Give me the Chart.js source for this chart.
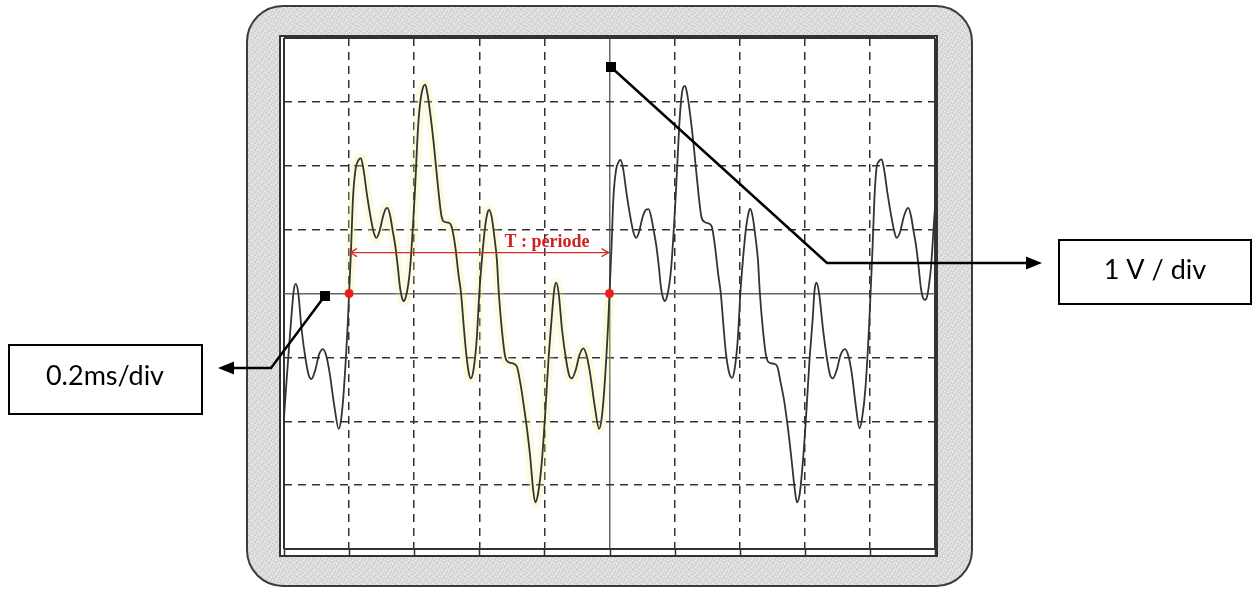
<!DOCTYPE html>
<html>
<head>
<meta charset="utf-8">
<script src="https://cdn.jsdelivr.net/npm/chart.js@4.4.1/dist/chart.umd.min.js"></script>
<style>
html,body{margin:0;padding:0;background:#fff;overflow:hidden}
canvas{display:block}
</style>
</head>
<body>
<canvas id="scope" width="1253" height="589"></canvas>
<script>
// ---- data (time in divisions, voltage in divisions) ----
const timeDiv = [
  0.00,0.03,0.06,0.11,0.15,0.18,0.22,0.27,0.34,0.38,0.42,0.48,0.54,0.60,0.65,0.70,0.78,0.84,0.88,0.92,0.98,
  1.00,1.03,1.06,1.10,1.14,1.18,1.22,1.27,1.33,1.38,1.42,1.46,1.52,1.56,1.59,1.63,1.67,1.71,1.75,1.78,1.81,1.84,1.87,1.91,1.94,1.98,
  2.01,2.06,2.10,2.14,2.17,2.20,2.24,2.30,2.35,2.42,2.47,2.52,2.57,2.63,2.68,2.72,2.76,2.80,2.84,2.87,2.91,2.96,
  3.00,3.04,3.09,3.13,3.15,3.19,3.23,3.27,3.30,3.35,3.40,3.46,3.53,3.58,3.63,3.67,3.73,3.78,3.83,3.86,3.90,3.96,
  4.01,4.06,4.11,4.15,4.18,4.22,4.27,4.34,4.38,4.42,4.48,4.54,4.60,4.65,4.70,4.78,4.84,4.88,4.92,4.98,
  5.00,5.03,5.06,5.10,5.14,5.17,5.21,5.26,5.32,5.37,5.41,5.45,5.51,5.56,5.60,5.64,5.68,5.72,5.76,5.79,5.82,5.85,5.88,5.92,5.95,5.99,
  6.02,6.07,6.10,6.13,6.16,6.19,6.23,6.29,6.34,6.41,6.46,6.51,6.57,6.62,6.67,6.71,6.75,6.79,6.84,6.88,6.92,6.97,
  7.01,7.05,7.10,7.14,7.16,7.20,7.24,7.28,7.31,7.36,7.41,7.47,7.53,7.58,7.63,7.68,7.74,7.79,7.85,7.88,7.92,7.97,
  8.02,8.07,8.12,8.15,8.18,8.22,8.28,8.35,8.39,8.43,8.49,8.55,8.62,8.67,8.72,8.79,8.84,8.88,8.93,8.99,
  9.01,9.04,9.07,9.10,9.14,9.18,9.22,9.27,9.33,9.38,9.41,9.46,9.52,9.56,9.59,9.63,9.67,9.71,9.75,9.78,9.81,9.85,9.88,9.91,9.94,9.98,10.00
];
const voltDiv = [
  -1.95,-1.50,-1.08,-0.41,0.05,0.15,0.00,-0.56,-1.08,-1.28,-1.34,-1.20,-0.95,-0.87,-0.98,-1.24,-1.81,-2.12,-1.95,-1.50,-0.46,
  0.00,0.70,1.50,1.95,2.08,2.12,1.95,1.58,1.20,0.95,0.87,0.95,1.20,1.32,1.34,1.22,0.98,0.74,0.40,0.11,-0.06,-0.12,-0.06,0.15,0.43,1.05,
  1.58,2.61,3.05,3.24,3.27,3.15,2.87,2.35,1.83,1.21,1.12,1.11,1.06,0.74,0.30,0.00,-0.50,-0.95,-1.25,-1.33,-1.20,-0.72,
  0.00,0.53,1.05,1.28,1.31,1.20,0.90,0.53,0.00,-0.60,-1.00,-1.08,-1.10,-1.15,-1.40,-1.66,-2.10,-2.54,-3.10,-3.27,-3.15,-2.64,
  -1.92,-1.08,-0.41,0.05,0.17,0.00,-0.56,-1.08,-1.28,-1.33,-1.20,-0.96,-0.86,-0.98,-1.24,-1.81,-2.12,-1.95,-1.50,-0.46,
  0.00,0.70,1.50,1.93,2.06,2.09,1.95,1.58,1.20,0.95,0.87,0.95,1.20,1.31,1.32,1.20,0.98,0.74,0.40,0.10,-0.06,-0.12,-0.06,0.15,0.43,1.05,
  1.58,2.60,3.02,3.22,3.25,3.14,2.87,2.35,1.83,1.21,1.12,1.10,1.05,0.74,0.30,0.00,-0.50,-0.95,-1.25,-1.32,-1.20,-0.72,
  0.00,0.53,1.05,1.28,1.33,1.20,0.90,0.53,0.00,-0.60,-1.00,-1.09,-1.10,-1.15,-1.40,-1.66,-2.10,-2.54,-3.10,-3.27,-3.15,-2.64,
  -1.92,-1.08,-0.41,0.05,0.17,0.00,-0.56,-1.08,-1.28,-1.33,-1.20,-0.96,-0.87,-0.98,-1.24,-1.81,-2.11,-1.95,-1.50,-0.46,
  0.00,0.70,1.50,1.95,2.07,2.10,1.93,1.57,1.20,0.95,0.87,0.95,1.20,1.31,1.34,1.22,0.98,0.74,0.40,0.11,-0.05,-0.10,-0.04,0.15,0.43,1.05,1.36
];
const xGridDiv = [0,1,2,3,4,5,6,7,8,9,10];
const yGridDiv = [-4,-3,-2,-1,0,1,2,3,4];
const periodStart = 1;
const periodEnd = 5;
const periodArrowLevel = 0.64;
const periodLabel = 'T : période';
const timeBaseLabel = '0.2ms/div';
const voltScaleLabel = '1 V / div';

// ---- helpers ----
const tracePoints = timeDiv.map((t, i) => ({ x: t, y: voltDiv[i] }));
const highlightPoints = tracePoints.filter(p => p.x >= periodStart && p.x <= periodEnd);

function roundRectPath(c, x, y, w, h, r) {
  c.beginPath();
  c.moveTo(x + r, y);
  c.lineTo(x + w - r, y);
  c.arcTo(x + w, y, x + w, y + r, r);
  c.lineTo(x + w, y + h - r);
  c.arcTo(x + w, y + h, x + w - r, y + h, r);
  c.lineTo(x + r, y + h);
  c.arcTo(x, y + h, x, y + h - r, r);
  c.lineTo(x, y + r);
  c.arcTo(x, y, x + r, y, r);
  c.closePath();
}
function bezelPattern(c) {
  const p = document.createElement('canvas');
  p.width = 7; p.height = 7;
  const pc = p.getContext('2d');
  pc.fillStyle = '#dddddd'; pc.fillRect(0, 0, 7, 7);
  pc.fillStyle = '#c4c4c4';
  [[0,0],[4,1],[6,4],[1,5],[3,3],[5,6],[2,2]].forEach(([a,b]) => pc.fillRect(a, b, 1, 1));
  pc.fillStyle = '#efefef';
  [[2,0],[5,2],[0,3],[3,5],[6,6]].forEach(([a,b]) => pc.fillRect(a, b, 1, 1));
  return c.createPattern(p, 'repeat');
}
function arrowHead(c, tipX, tipY, dir, len, half) {
  c.beginPath();
  c.moveTo(tipX, tipY);
  c.lineTo(tipX - dir * len, tipY - half);
  c.lineTo(tipX - dir * len, tipY + half);
  c.closePath();
  c.fill();
}

const scopePlugin = {
  id: 'scopePlugin',
  beforeDraw(chart) {
    const c = chart.ctx;
    c.save();
    c.fillStyle = '#ffffff';
    c.fillRect(0, 0, chart.width, chart.height);
    roundRectPath(c, 247, 6, 725, 580, 36);
    c.fillStyle = bezelPattern(c);
    c.fill();
    c.lineWidth = 2;
    c.strokeStyle = '#3c3c3c';
    c.stroke();
    c.fillStyle = '#ffffff';
    c.fillRect(280, 36, 657, 520);
    c.restore();
  },
  afterDraw(chart) {
    const c = chart.ctx;
    const xs = chart.scales.x, ys = chart.scales.y;
    const area = chart.chartArea;
    c.save();
    // screen frame
    c.strokeStyle = '#333';
    c.lineWidth = 2;
    c.strokeRect(280, 36, 657, 520);
    // bottom tick marks between plot edge and frame
    c.lineWidth = 1.5;
    c.beginPath();
    xGridDiv.forEach(v => {
      const px = Math.round(xs.getPixelForValue(v)) + 0.5;
      c.moveTo(px, area.bottom);
      c.lineTo(px, 556);
    });
    c.stroke();

    // red period arrow heads and label
    const y0 = ys.getPixelForValue(periodArrowLevel);
    const xa = xs.getPixelForValue(periodStart), xb = xs.getPixelForValue(periodEnd);
    c.strokeStyle = '#d42a2a';
    c.lineWidth = 1.3;
    c.beginPath();
    c.moveTo(xa + 8, y0 - 4); c.lineTo(xa + 1, y0); c.lineTo(xa + 8, y0 + 4);
    c.moveTo(xb - 8, y0 - 4); c.lineTo(xb - 1, y0); c.lineTo(xb - 8, y0 + 4);
    c.stroke();
    c.fillStyle = '#cc2222';
    c.font = 'bold 18px "Liberation Serif", "DejaVu Serif", serif';
    c.textAlign = 'center';
    c.textBaseline = 'alphabetic';
    c.fillText(periodLabel, xs.getPixelForValue(4.04), y0 - 6);

    // callouts
    c.strokeStyle = '#000';
    c.fillStyle = '#000';
    c.lineWidth = 2.5;
    c.lineJoin = 'miter';
    // time base callout (left)
    c.fillRect(320, 291, 10, 10);
    c.beginPath();
    c.moveTo(324, 297); c.lineTo(271, 368); c.lineTo(232, 368);
    c.stroke();
    arrowHead(c, 218, 368, -1, 16, 6.5);
    c.lineWidth = 2;
    c.strokeRect(9, 345, 193, 69);
    c.font = '27px Lato, "Open Sans", sans-serif';
    c.textAlign = 'center';
    c.fillText(timeBaseLabel, 105, 385);
    // volts/div callout (right)
    c.lineWidth = 2.5;
    c.fillRect(606, 62, 10, 10);
    c.beginPath();
    c.moveTo(612, 68); c.lineTo(827, 263); c.lineTo(1028, 263);
    c.stroke();
    arrowHead(c, 1042, 263, 1, 16, 6.5);
    c.lineWidth = 2;
    c.strokeRect(1059, 240, 192, 64);
    c.fillText(voltScaleLabel, 1155, 279);
    c.restore();
  }
};

const edgeOrCenter = (v, lo, hi, mid) => v === lo || v === hi || v === mid;

new Chart(document.getElementById('scope'), {
  type: 'scatter',
  data: {
    datasets: [
      {
        label: 'marks',
        data: [{ x: periodStart, y: 0 }, { x: periodEnd, y: 0 }],
        showLine: false,
        pointRadius: 4.5,
        pointBackgroundColor: '#ee1c1c',
        pointBorderWidth: 0,
        order: 0
      },
      {
        label: 'period',
        data: [{ x: periodStart, y: periodArrowLevel }, { x: periodEnd, y: periodArrowLevel }],
        showLine: true,
        borderColor: '#d42a2a',
        borderWidth: 1.3,
        pointRadius: 0,
        order: 1
      },
      {
        label: 'signal',
        data: tracePoints,
        showLine: true,
        borderColor: '#333333',
        borderWidth: 1.8,
        pointRadius: 0,
        cubicInterpolationMode: 'monotone',
        order: 2
      },
      {
        label: 'highlight',
        data: highlightPoints,
        showLine: true,
        borderColor: 'rgba(242,234,130,0.26)',
        borderWidth: 10,
        pointRadius: 0,
        cubicInterpolationMode: 'monotone',
        order: 3
      }
    ]
  },
  options: {
    responsive: false,
    animation: false,
    events: [],
    layout: { padding: { left: 284, right: 318, top: 38, bottom: 40 } },
    plugins: { legend: { display: false }, tooltip: { enabled: false } },
    scales: {
      x: {
        type: 'linear', min: 0, max: 10,
        afterBuildTicks: s => { s.ticks = xGridDiv.map(v => ({ value: v })); },
        ticks: { display: false },
        grid: {
          drawTicks: false,
          color: ctx => (ctx.tick.value === 0 || ctx.tick.value === 10) ? '#333' : (ctx.tick.value === 5 ? '#666' : '#333'),
          lineWidth: ctx => (ctx.tick.value === 0 || ctx.tick.value === 10) ? 2 : 1.5
        },
        border: { display: false, dash: ctx => edgeOrCenter(ctx.tick.value, 0, 10, 5) ? [] : [8, 6] }
      },
      y: {
        type: 'linear', min: -4, max: 4,
        afterBuildTicks: s => { s.ticks = yGridDiv.map(v => ({ value: v })); },
        ticks: { display: false },
        grid: {
          drawTicks: false,
          color: ctx => (ctx.tick.value === -4 || ctx.tick.value === 4) ? '#333' : (ctx.tick.value === 0 ? '#666' : '#333'),
          lineWidth: ctx => (ctx.tick.value === -4 || ctx.tick.value === 4) ? 2 : 1.5
        },
        border: { display: false, dash: ctx => edgeOrCenter(ctx.tick.value, -4, 4, 0) ? [] : [8, 6] }
      }
    }
  },
  plugins: [scopePlugin]
});
</script>
</body>
</html>
